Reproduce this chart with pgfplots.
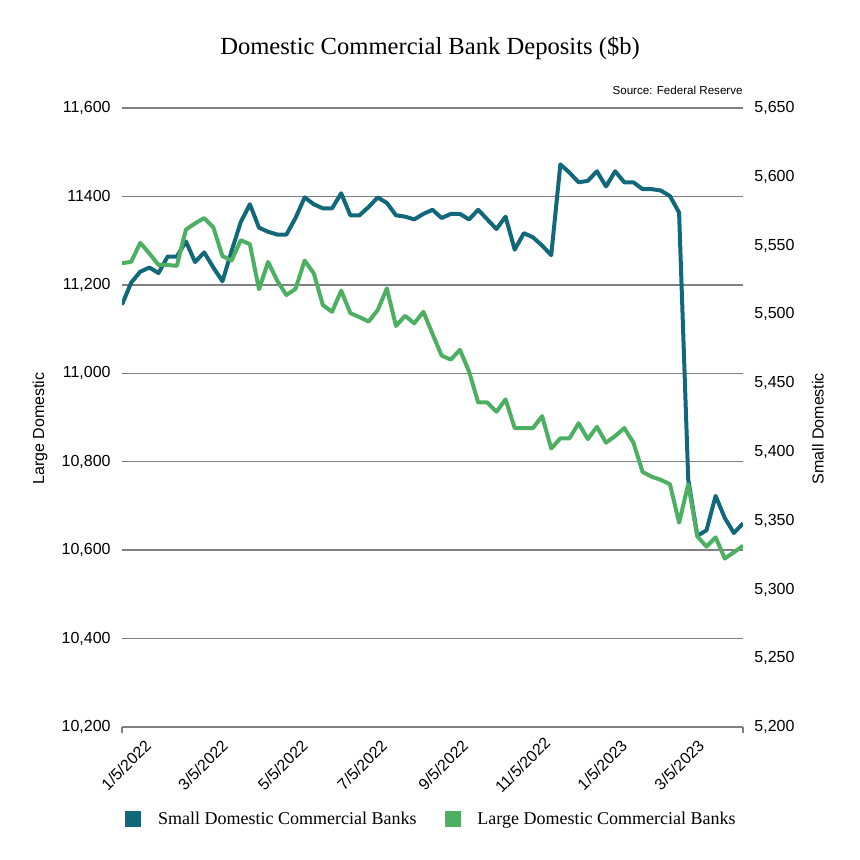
\documentclass[border=0pt]{standalone}
\usepackage{pgfplots}
\usepackage{pgfplotstable}
\pgfplotsset{compat=1.18}
\usepackage{fontspec}
\setmainfont{Liberation Sans}
\newfontfamily\serif{Liberation Serif}
\definecolor{tealc}{RGB}{17,104,122}
\definecolor{greenc}{RGB}{77,175,98}
\definecolor{gridc}{RGB}{128,128,128}

\pgfplotstableread{
x y
0 11249
7 11252
14 11295
21 11271
28 11245
35 11245
42 11243
49 11325
56 11339
63 11351
70 11330
77 11265
84 11255
91 11301
98 11292
105 11190
112 11252
119 11209
126 11177
133 11191
140 11255
147 11226
154 11154
161 11139
168 11187
175 11136
182 11127
189 11117
196 11143
203 11192
210 11107
217 11130
224 11113
231 11139
238 11089
245 11040
252 11031
259 11053
266 11004
273 10934
280 10934
287 10913
294 10941
301 10876
308 10876
315 10876
322 10903
329 10830
336 10853
343 10853
350 10887
357 10851
364 10879
371 10843
378 10858
385 10876
392 10843
399 10777
406 10766
413 10759
420 10749
427 10662
434 10749
441 10631
448 10608
455 10629
462 10581
469 10595
476 10610
}\largetab

\pgfplotstableread{
x y
0 5507
7 5523
14 5531
21 5534
28 5530
35 5542
42 5542
49 5553
56 5538
63 5545
70 5534
77 5524
84 5546
91 5567
98 5580
105 5563
112 5560
119 5558
126 5558
133 5570
140 5585
147 5580
154 5577
161 5577
168 5588
175 5572
182 5572
189 5578
196 5585
203 5581
210 5572
217 5571
224 5569
231 5573
238 5576
245 5570
252 5573
259 5573
266 5569
273 5576
280 5569
287 5562
294 5571
301 5547
308 5559
315 5556
322 5550
329 5543
336 5609
343 5603
350 5596
357 5597
364 5604
371 5593
378 5604
385 5596
392 5596
399 5591
406 5591
413 5590
420 5586
427 5574
434 5380
441 5339
448 5343
455 5368
462 5352
469 5341
476 5348
}\smalltab

\pgfplotsset{
  common/.style={
    scale only axis, width=310.5pt, height=309.5pt,
    at={(0,0)}, anchor=south west,
    xmin=0, xmax=476,
    scaled y ticks=false, scaled x ticks=false,
    /pgf/number format/assume math mode=true,
    tick label style={font=\fontsize{8}{9}\selectfont},
    major tick length=0pt,
  }
}

\begin{document}
\begin{tikzpicture}
\useasboundingbox (-61pt,-66.5pt) rectangle (369pt,363.5pt);
% left axis with grid and x labels
\begin{axis}[common,
  clip=false,
  ymin=10200, ymax=11600,
  axis x line*=bottom, axis y line*=left,
  axis line style={-},
  y axis line style={draw=none},
  x axis line style={draw=gridc, line width=0.8pt},
  ytick={10200,10400,10600,10800,11000,11200,11400,11600},
  yticklabels={{10,200},{10,400},{10,600},{10,800},{11,000},{11,200},{11400},{11,600}},
  yticklabel style={anchor=east, inner sep=0pt, xshift=-5.5pt},
  ymajorgrids, grid style={gridc, line width=0.75pt},
  xtick={0,59,120,181,243,304,365,424},
  xticklabels={1/5/2022,3/5/2022,5/5/2022,7/5/2022,9/5/2022,11/5/2022,1/5/2023,3/5/2023},
  xticklabel style={yshift=-19pt, xshift=2pt, rotate=45, anchor=center},
  tick style={draw=none},
]
\addplot[draw=none] table[x=x,y=y] {\largetab};
\draw[gridc, line width=0.8pt] (rel axis cs:0,0) -- ([yshift=-3pt]rel axis cs:0,0);
\draw[gridc, line width=0.8pt] (rel axis cs:1,0) -- ([yshift=-3pt]rel axis cs:1,0);
\node[xshift=-41pt, rotate=90, font=\fontsize{8}{9}\selectfont] at (rel axis cs:0,0.482) {Large Domestic};
\node[xshift=37.5pt, rotate=90, font=\fontsize{8}{9}\selectfont] at (rel axis cs:1,0.482) {Small Domestic};
\node[yshift=30pt, font=\serif\fontsize{12.3}{14}\selectfont] at (rel axis cs:0.496,1) {Domestic Commercial Bank Deposits (\$b)};
\node[yshift=9pt, anchor=east, font=\fontsize{5.8}{7}\selectfont, inner sep=0pt] at (rel axis cs:1,1) {Source: Federal Reserve};
\end{axis}
% right axis, small banks
\begin{axis}[common,
  ymin=5200, ymax=5650,
  axis x line=none, axis y line*=right,
  axis line style={-},
  y axis line style={draw=none},
  ytick={5200,5250,5300,5350,5400,5450,5500,5550,5600,5650},
  yticklabels={{5,200},{5,250},{5,300},{5,350},{5,400},{5,450},{5,500},{5,550},{5,600},{5,650}},
  yticklabel style={anchor=west, inner sep=0pt, xshift=5.5pt},
  tick style={draw=none},
]
\addplot[tealc, line width=2pt, line join=round] table[x=x,y=y] {\smalltab};
\end{axis}
% large banks on top
\begin{axis}[common,
  ymin=10200, ymax=11600,
  hide axis,
  legend columns=2,
  legend style={draw=none, fill=none, at={(0.5,-0.150)}, anchor=center,
    font=\serif\fontsize{9}{10}\selectfont,
    /tikz/every odd column/.append style={column sep=6.5pt},
    /tikz/every even column/.append style={column sep=12pt}},
  legend cell align=left,
]
\addplot[greenc, line width=2pt, line join=round, forget plot] table[x=x,y=y] {\largetab};
\addlegendimage{legend image code/.code={\fill[tealc] (0pt,-3.5pt) rectangle (7.5pt,4pt);}}
\addlegendentry{Small Domestic Commercial Banks}
\addlegendimage{legend image code/.code={\fill[greenc] (0pt,-3.5pt) rectangle (7.5pt,4pt);}}
\addlegendentry{Large Domestic Commercial Banks}
\end{axis}
\end{tikzpicture}
\end{document}
